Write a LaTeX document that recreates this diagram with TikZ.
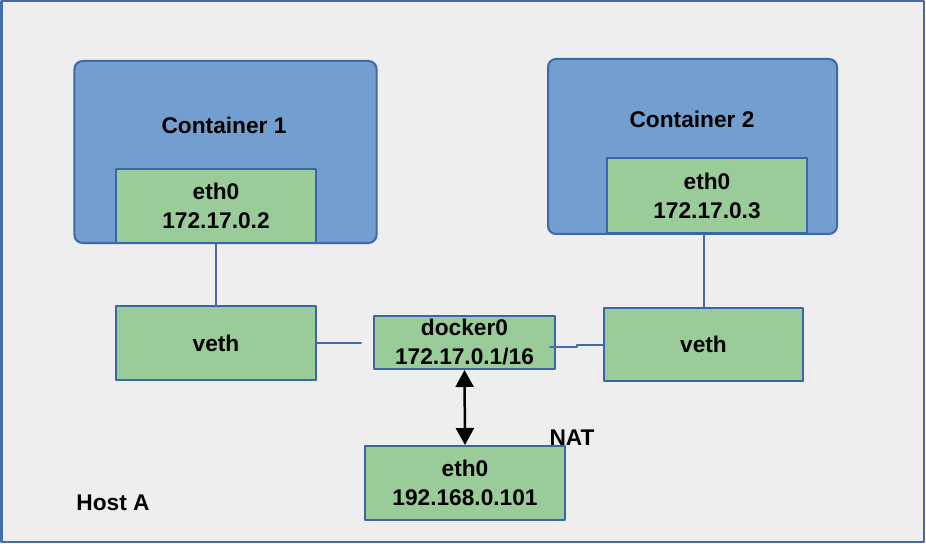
\documentclass[tikz,border=0pt]{standalone}
\usepackage{fontspec}
\setmainfont{Liberation Sans}
\usetikzlibrary{arrows.meta}
\definecolor{hostbg}{RGB}{238,238,238}
\definecolor{hostline}{RGB}{68,108,170}
\definecolor{ctrfill}{RGB}{114,159,207}
\definecolor{ctrline}{RGB}{62,104,170}
\definecolor{ifill}{RGB}{153,204,153}
\definecolor{iline}{RGB}{60,100,170}
\newcommand{\hosttxt}{\fontsize{22.7bp}{29bp}\selectfont\bfseries}

\begin{document}
\begin{tikzpicture}[x=1bp, y=-1bp, line cap=round, line join=round,
  ctr/.style={draw=ctrline, fill=ctrfill, line width=2bp, rounded corners=8bp, inner sep=0pt},
  iface/.style={draw=iline, fill=ifill, line width=2bp, inner sep=0pt, align=center, font=\hosttxt},
  link/.style={draw=hostline, line width=2bp},
  lbl/.style={inner sep=0pt, font=\hosttxt}]
  \useasboundingbox (0,0) rectangle (926,544);
  %--- Host
    \draw[draw=hostline, fill=hostbg, line width=2bp] (1.5,1.5) rectangle (923.5,541.5);
    \node[lbl] (hostlbl) at (113,503) {Host A};
  %--- Container 1
    \node[ctr, minimum width=302bp, minimum height=182bp] (ctra) at (225.5,152) {};
    \node[lbl] (ctralbl) at (224,125) {Container 1};
    \node[iface, minimum width=200bp, minimum height=74bp] (etha) at (216,206) {eth0\\172.17.0.2};
  %--- Container 2
    \node[ctr, minimum width=289bp, minimum height=175bp] (ctrb) at (692.5,146.5) {};
    \node[lbl] (ctrblbl) at (692,119) {Container 2};
    \node[iface, minimum width=200bp, minimum height=75bp] (ethb) at (707,195.5) {eth0\\172.17.0.3};
  %--- veth pairs and bridge
    \node[iface, minimum width=200bp, minimum height=74bp] (vetha) at (216,343) {veth};
    \node[iface, minimum width=199bp, minimum height=73bp] (vethb) at (703.5,344.5) {veth};
    \node[iface, minimum width=181bp, minimum height=53bp] (dock) at (464.5,342.5) {docker0\\172.17.0.1/16};
  %--- Host interface
    \node[iface, minimum width=200bp, minimum height=74bp] (ethh) at (465,483) {eth0\\192.168.0.101};
    \node[lbl] (nat) at (572,437.5) {NAT};
  %--- Links
    \draw[link] (etha.south) -- (vetha.north);
    \draw[link] (vethb.north |- ethb.south) -- (vethb.north);
    \coordinate (gapa) at (361,343);
    \draw[link] (vetha.east) -- (gapa);
    \draw[link] ([shift={(-6,4.5)}]dock.east) -- ++(27,0) |- (vethb.west);
    \draw[{Triangle[width=18bp,length=17bp]}-{Triangle[width=18bp,length=17bp]}, line width=2.5bp] (dock.south) -- (ethh.north);
\end{tikzpicture}
\end{document}
